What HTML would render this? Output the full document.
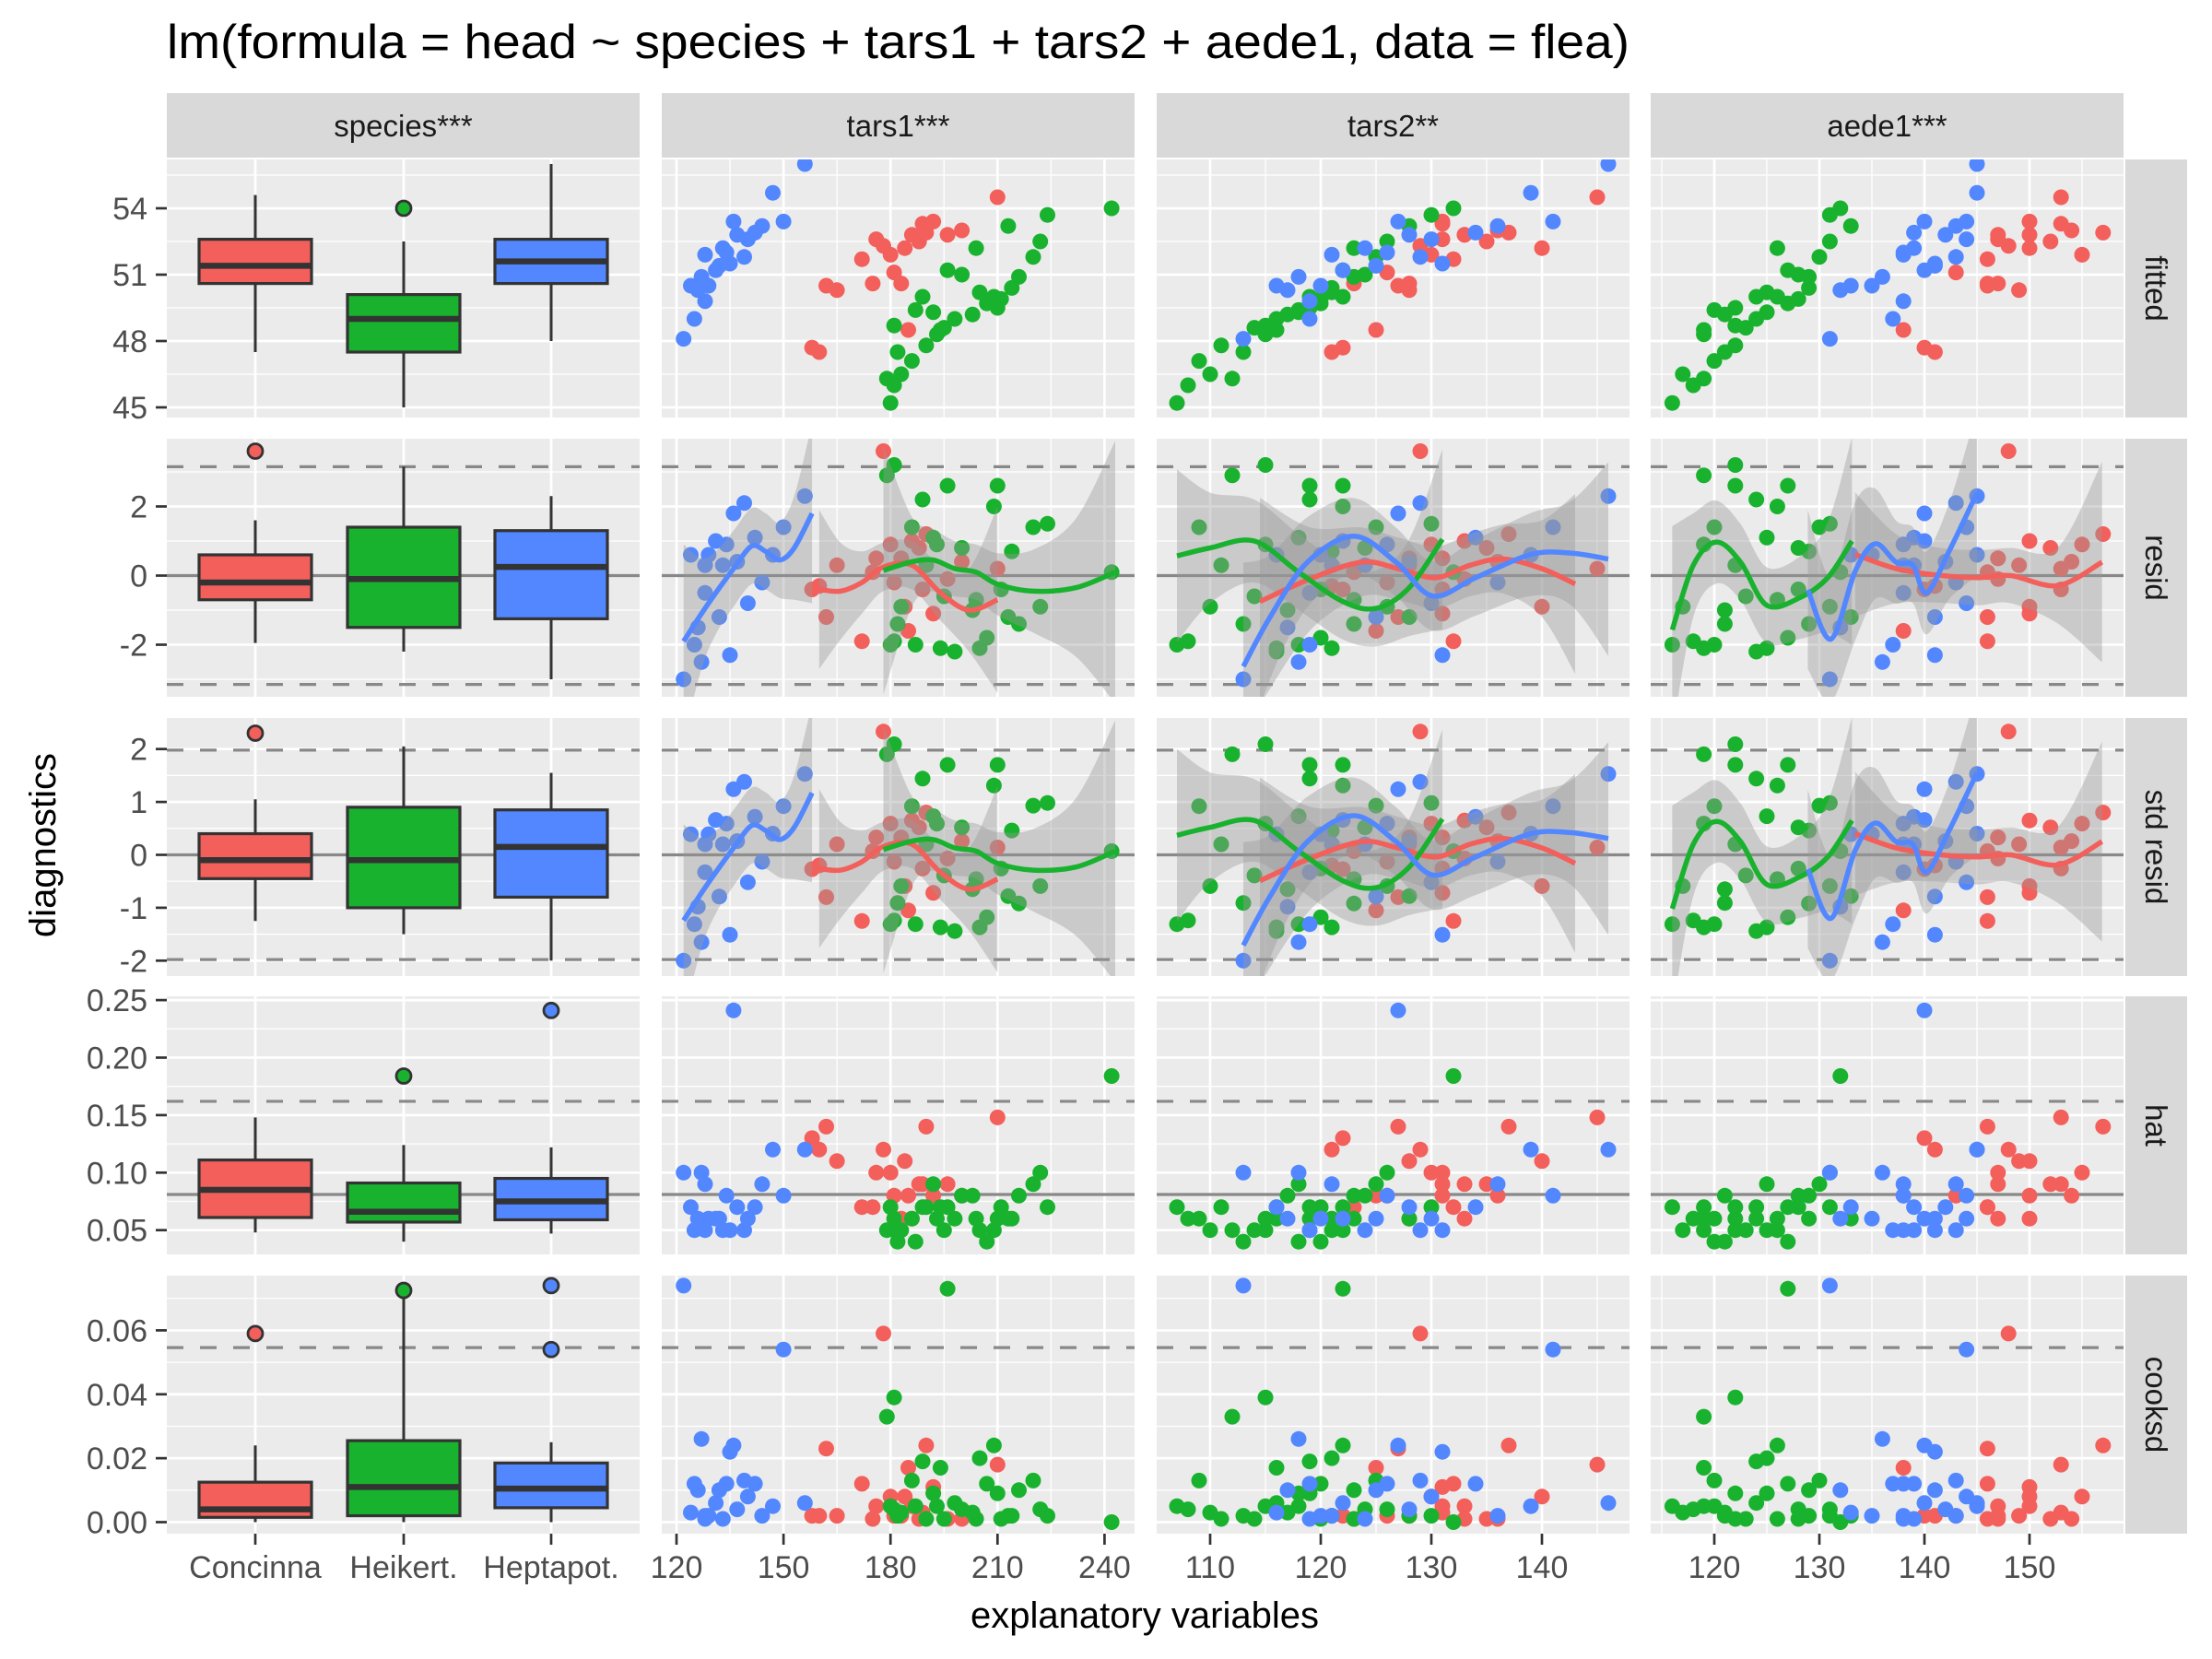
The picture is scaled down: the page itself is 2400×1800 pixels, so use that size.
<!DOCTYPE html>
<html><head><meta charset="utf-8"><title>lm diagnostics</title>
<style>html,body{margin:0;padding:0;background:#fff}svg{display:block}</style></head>
<body>
<svg id="chart" xmlns="http://www.w3.org/2000/svg" width="2400" height="1800" viewBox="0 0 2400 1800" font-family="'Liberation Sans', Arial, sans-serif">
<rect width="2400" height="1800" fill="#fff"/>
<text x="181" y="63" font-size="52" fill="#000" textLength="1587" lengthAdjust="spacingAndGlyphs">lm(formula = head ~ species + tars1 + tars2 + aede1, data = flea)</text>
<text x="1242" y="1766" font-size="40" fill="#000" text-anchor="middle">explanatory variables</text>
<text transform="translate(60,917) rotate(-90)" font-size="40" fill="#000" text-anchor="middle">diagnostics</text>
</svg>
<script>
// ---------- data ----------
const speciesNames = ["Concinna", "Heikert.", "Heptapot."];
const speciesColors = ["#F35F5B", "#19B22E", "#5287FF"];
const colVars = ["species", "tars1", "tars2", "aede1"];
const colStrips = ["species***", "tars1***", "tars2**", "aede1***"];
const rowStrips = ["fitted", "resid", "std resid", "hat", "cooksd"];

const tars1 = [
  [176,181,186,189,178,162,165,172,188,158,160,196,200,184,210,180,185,175,190,192,183],
  [180,181,183,179,186,182,190,193,195,198,192,181,203,207,209,211,214,216,220,222,242,189,205,200,187,196,213,224,194,204,210],
  [122,124,126,127,125,128,129,131,128,133,136,132,134,137,139,140,135,142,144,147,150,156]
];
const tars2 = [
  [131,126,133,131,129,127,128,132,135,122,121,133,136,140,145,130,125,123,137,131,128],
  [107,108,110,112,109,113,111,115,114,116,118,115,117,120,122,120,121,123,125,126,132,119,121,124,118,122,128,130,116,123,119],
  [113,116,117,118,119,121,120,122,119,124,127,125,126,128,129,130,131,134,136,139,141,146]
];
const aede1 = [
  [147,143,150,153,148,146,149,146,152,140,141,147,154,150,153,155,138,146,157,150,147],
  [116,118,117,119,120,121,122,119,123,124,125,122,121,127,126,128,129,129,130,131,132,124,125,128,120,127,133,131,119,126,122],
  [131,133,132,136,137,138,135,140,138,139,140,141,138,142,143,144,141,139,143,145,144,145]
];
const fitted = [
  [52.6,51.1,52.8,53.3,52.3,50.5,50.3,51.7,52.5,47.7,47.5,52.8,53.0,52.2,54.5,51.9,48.5,50.6,52.9,53.4,50.6],
  [45.2,46.0,46.5,46.3,47.1,47.5,47.8,48.3,48.6,49.0,49.3,48.7,49.2,49.7,50.0,49.9,50.4,50.9,51.8,52.5,54.0,50.0,50.2,51.0,49.4,51.2,53.2,53.7,48.5,52.2,49.5],
  [48.1,50.5,50.3,50.9,49.0,51.9,50.5,51.2,49.8,52.2,53.4,51.4,52.0,52.8,51.8,52.6,51.5,52.9,53.2,54.7,53.4,56.0]
];
const resid = [
  [0.5,-0.2,1.0,-0.4,3.6,-1.2,0.3,-1.9,0.8,-0.4,-0.3,-0.1,0.4,-0.9,0.2,0.9,-1.6,0.1,1.2,-1.1,0.5],
  [-2.0,-1.9,-0.9,2.9,1.4,-1.4,0.3,0.9,-0.6,-2.2,1.1,3.2,-1.0,-1.8,2.0,-0.4,0.7,-1.4,1.4,-0.9,0.1,2.2,-2.1,0.8,-2.0,2.6,-1.2,1.5,-2.1,-0.7,2.6],
  [-3.0,0.6,-1.5,-2.5,-2.0,0.3,0.6,1.0,-0.5,0.3,1.8,-1.2,0.9,0.4,2.1,-0.8,-2.3,1.1,-0.2,0.6,1.4,2.3]
];
const stdResid = [
  [0.33,-0.13,0.65,-0.26,2.33,-0.8,0.2,-1.25,0.52,-0.27,-0.2,-0.07,0.26,-0.59,0.14,0.59,-1.05,0.07,0.8,-0.72,0.33],
  [-1.31,-1.24,-0.59,1.9,0.92,-0.91,0.2,0.59,-0.39,-1.44,0.73,2.09,-0.65,-1.18,1.31,-0.26,0.46,-0.92,0.93,-0.59,0.07,1.44,-1.37,0.52,-1.31,1.7,-0.78,0.98,-1.37,-0.46,1.7],
  [-2.0,0.39,-0.98,-1.65,-1.31,0.2,0.39,0.66,-0.33,0.2,1.24,-0.79,0.59,0.26,1.38,-0.52,-1.51,0.72,-0.13,0.4,0.92,1.53]
];
const hat = [
  [0.10,0.08,0.06,0.09,0.12,0.14,0.11,0.07,0.09,0.13,0.12,0.09,0.08,0.11,0.148,0.10,0.08,0.07,0.14,0.08,0.06],
  [0.07,0.06,0.05,0.05,0.06,0.04,0.07,0.06,0.05,0.06,0.09,0.05,0.08,0.04,0.05,0.07,0.06,0.08,0.09,0.10,0.184,0.07,0.05,0.08,0.04,0.07,0.06,0.07,0.07,0.06,0.06],
  [0.10,0.07,0.06,0.10,0.05,0.09,0.06,0.06,0.05,0.05,0.241,0.06,0.08,0.07,0.05,0.06,0.05,0.07,0.09,0.12,0.08,0.12]
];
const cooksd = [
  [0.005,0.002,0.005,0.003,0.059,0.023,0.002,0.012,0.001,0.002,0.002,0.001,0.001,0.008,0.018,0.008,0.017,0.001,0.024,0.011,0.002],
  [0.005,0.004,0.003,0.033,0.013,0.002,0.001,0.005,0.001,0.006,0.009,0.039,0.003,0.012,0.024,0.001,0.002,0.010,0.013,0.004,0.000,0.019,0.020,0.004,0.005,0.073,0.002,0.002,0.017,0.001,0.009],
  [0.074,0.003,0.010,0.026,0.012,0.002,0.002,0.006,0.001,0.001,0.024,0.010,0.012,0.004,0.013,0.008,0.022,0.012,0.002,0.005,0.054,0.006]
];

const boxLo  = [[47.5,45.0,48.0],[-1.95,-2.2,-3.0],[-1.25,-1.5,-2.0],[0.048,0.040,0.047],[0,0,0]];
const boxQ1  = [[50.6,47.5,50.6],[-0.7,-1.5,-1.25],[-0.45,-1.0,-0.8],[0.061,0.057,0.059],[0.0015,0.002,0.0045]];
const boxMed = [[51.4,49.0,51.6],[-0.2,-0.1,0.25],[-0.1,-0.1,0.15],[0.085,0.066,0.075],[0.004,0.011,0.0105]];
const boxQ3  = [[52.6,50.1,52.6],[0.6,1.4,1.3],[0.4,0.9,0.85],[0.111,0.091,0.095],[0.0125,0.0255,0.0185]];
const boxHi  = [[54.6,52.5,56.0],[1.6,3.15,2.3],[1.05,2.05,1.55],[0.148,0.124,0.122],[0.024,0.0725,0.025]];
const boxOutliers = [
  [[],[54.0],[]],
  [[3.6],[],[]],
  [[2.3],[],[]],
  [[],[0.184],[0.241]],
  [[0.059],[0.0725],[0.054,0.074]]
];

const solidRefs  = [[], [0], [0], [0.081], []];
const dashedRefs = [[], [-3.15, 3.15], [-1.98, 1.98], [0.162], [0.0546]];

const smX = {
  tars1: [[160,166,172,178,186,194,202,210],[178,186,192,198,204,210,220,232,243],[122,127,131,136,141,145,149,153,158]],
  tars2: [[114.5,119,123.7,127,130.4,133.5,136.5,140,143],[107,110,114,118,122,125,128,131],[113,115.4,118.8,123,126.8,130.1,134,139,142.6,146]],
  aede1: [[133.4,137.3,141.1,145,148.2,152.7,156.9],[116,118,120.2,122.5,125,128.2,130.8,133.1],[128.9,131.1,133.4,135.3,137.3,138.9,140.2,142.4,145]]
};
const smResidY = {
  tars1: [[-0.4,-0.45,-0.2,0.25,0.3,-0.5,-1.0,-0.7],[0.15,0.4,0.45,0.2,0.1,-0.25,-0.45,-0.35,0.1],[-1.9,-1.1,-0.5,0.2,0.85,0.7,0.45,0.8,1.8]],
  tars2: [[-0.75,-0.1,0.39,0.2,-0.06,0.3,0.48,0.2,-0.24],[0.57,0.8,1.0,0.1,-0.75,-0.95,-0.35,1.05],[-2.63,-1.21,0.39,1.14,0.39,-0.59,-0.06,0.61,0.65,0.48]],
  aede1: [[0.61,0.2,0.02,-0.06,0.0,-0.29,0.39],[-1.57,0.3,0.97,0.39,-0.86,-0.63,-0.06,1.0],[-0.41,-1.84,0.12,0.92,0.39,0.3,-0.5,0.74,2.39]]
};
const smResidSE = {
  tars1: [[2.3,1.4,0.9,0.7,0.7,0.8,1.2,2.7],[3.6,1.3,0.9,0.8,0.8,0.9,1.2,2.0,3.8],[2.8,1.6,1.2,1.1,1.1,1.1,1.1,1.5,2.6]],
  tars2: [[3.0,1.5,1.0,0.9,0.9,0.9,1.0,1.4,2.6],[2.5,1.6,1.2,1.1,1.1,1.1,1.4,2.6],[3.0,1.8,1.3,1.1,1.0,1.0,1.1,1.2,1.5,2.8]],
  aede1: [[1.8,1.0,0.8,0.8,0.8,1.1,2.9],[3.0,1.5,1.2,1.1,1.1,1.2,1.6,3.0],[2.3,1.8,2.0,1.6,1.2,1.1,1.2,1.4,2.4]]
};
const smStdY = {
  tars1: [[-0.26,-0.29,-0.13,0.16,0.2,-0.33,-0.65,-0.46],[0.1,0.26,0.29,0.13,0.07,-0.16,-0.29,-0.23,0.07],[-1.24,-0.72,-0.33,0.13,0.55,0.46,0.29,0.52,1.17]],
  tars2: [[-0.49,-0.07,0.25,0.13,-0.04,0.2,0.31,0.13,-0.16],[0.37,0.52,0.65,0.07,-0.49,-0.62,-0.23,0.68],[-1.71,-0.79,0.25,0.74,0.25,-0.38,-0.04,0.4,0.42,0.31]],
  aede1: [[0.4,0.13,0.01,-0.04,0.0,-0.19,0.25],[-1.02,0.2,0.63,0.25,-0.56,-0.41,-0.04,0.65],[-0.27,-1.2,0.08,0.6,0.25,0.2,-0.33,0.48,1.55]]
};
const smStdSE = {
  tars1: [[1.5,0.91,0.59,0.46,0.46,0.52,0.78,1.76],[2.34,0.85,0.59,0.52,0.52,0.59,0.78,1.3,2.47],[1.82,1.04,0.78,0.72,0.72,0.72,0.72,0.98,1.69]],
  tars2: [[1.95,0.98,0.65,0.59,0.59,0.59,0.65,0.91,1.69],[1.63,1.04,0.78,0.72,0.72,0.72,0.91,1.69],[1.95,1.17,0.85,0.72,0.65,0.65,0.72,0.78,0.98,1.82]],
  aede1: [[1.17,0.65,0.52,0.52,0.52,0.72,1.89],[1.95,0.98,0.78,0.72,0.72,0.78,1.04,1.95],[1.5,1.17,1.3,1.04,0.78,0.72,0.78,0.91,1.56]]
};

const yTicks = [[45,48,51,54],[-2,0,2],[-2,-1,0,1,2],[0.05,0.10,0.15,0.20,0.25],[0,0.02,0.04,0.06]];
const yTickLabels = [["45","48","51","54"],["-2","0","2"],["-2","-1","0","1","2"],["0.05","0.10","0.15","0.20","0.25"],["0.00","0.02","0.04","0.06"]];
const yMinor = [[43.5,46.5,49.5,52.5,55.5],[-3,-1,1,3],[-1.5,-0.5,0.5,1.5],[0.075,0.125,0.175,0.225],[0.01,0.03,0.05,0.07]];
const xTicks = {tars1:[120,150,180,210,240], tars2:[110,120,130,140], aede1:[120,130,140,150]};
const xMinor = {tars1:[135,165,195,225], tars2:[115,125,135,145], aede1:[115,125,135,145,155]};

// ---------- layout / scales ----------
const NS = "http://www.w3.org/2000/svg";
const svg = document.getElementById("chart");
const colLeft = [181, 718, 1255, 1791], panelW = 513;
const rowTop = [173, 476, 779, 1081, 1384], panelH = 280;
const yAnchor = [[54,226,24.0],[0,624.5,37.5],[0,927.5,57.4],[0.05,1334.7,1248],[0,1651.5,3468]];
function yS(r, v){ const a=yAnchor[r]; return a[1] - (v - a[0]) * a[2]; }
const xAnchor = {tars1:[120,734,3.87], tars2:[110,1313,12.0], aede1:[120,1860,11.4]};
function xS(varName, v){ const a=xAnchor[varName]; return a[1] + (v - a[0]) * a[2]; }
const catX = [277, 438, 598];
const xData = {tars1: tars1, tars2: tars2, aede1: aede1};
const yData = [fitted, resid, stdResid, hat, cooksd];

function mk(tag, attrs, parent){
  const e = document.createElementNS(NS, tag);
  for (const k in attrs) e.setAttribute(k, attrs[k]);
  (parent || svg).appendChild(e);
  return e;
}
function smoothPath(pts){
  let d = "M" + pts[0][0].toFixed(1) + "," + pts[0][1].toFixed(1);
  for (let i=0;i<pts.length-1;i++){
    const p0=pts[Math.max(0,i-1)], p1=pts[i], p2=pts[i+1], p3=pts[Math.min(pts.length-1,i+2)];
    const c1=[p1[0]+(p2[0]-p0[0])/6, p1[1]+(p2[1]-p0[1])/6];
    const c2=[p2[0]-(p3[0]-p1[0])/6, p2[1]-(p3[1]-p1[1])/6];
    d += " C"+c1[0].toFixed(1)+","+c1[1].toFixed(1)+" "+c2[0].toFixed(1)+","+c2[1].toFixed(1)+" "+p2[0].toFixed(1)+","+p2[1].toFixed(1);
  }
  return d;
}

const defs = mk("defs", {});

colStrips.forEach((s, c) => {
  const g = mk("g", {});
  
  
  mk("rect", {x: colLeft[c], y: 101, width: panelW, height: 70, fill: "#D9D9D9"}, g);
  const t = mk("text", {x: colLeft[c] + panelW/2, y: 148, "font-size": 33, fill: "#1A1A1A", "text-anchor": "middle"}, g);
  t.textContent = s;
});
rowStrips.forEach((s, r) => {
  const g = mk("g", {});
  
  
  mk("rect", {x: 2306, y: rowTop[r], width: 67, height: panelH, fill: "#D9D9D9"}, g);
  const t = mk("text", {transform: "translate(2328," + (rowTop[r] + panelH/2) + ") rotate(90)", "font-size": 33, fill: "#1A1A1A", "text-anchor": "middle"}, g);
  t.textContent = s;
});

for (let r = 0; r < 5; r++) {
  for (let c = 0; c < 4; c++) {
    const L = colLeft[c], T = rowTop[r], R = L + panelW, B = T + panelH;
    const vname = colVars[c];
    const g = mk("g", {});
    
    
    const cid = "clip" + r + "_" + c;
    const cp = mk("clipPath", {id: cid}, defs);
    mk("rect", {x: L, y: T, width: panelW, height: panelH}, cp);
    mk("rect", {x: L, y: T, width: panelW, height: panelH, fill: "#EBEBEB"}, g);
    const grid = mk("g", {"clip-path": "url(#" + cid + ")"}, g);
    yMinor[r].forEach(v => { const y = yS(r, v); if (y > T && y < B) mk("line", {x1: L, x2: R, y1: y, y2: y, stroke: "#fff", "stroke-width": 1.3}, grid); });
    if (c > 0) xMinor[vname].forEach(v => { const x = xS(vname, v); mk("line", {x1: x, x2: x, y1: T, y2: B, stroke: "#fff", "stroke-width": 1.3}, grid); });
    yTicks[r].forEach(v => { const y = yS(r, v); mk("line", {x1: L, x2: R, y1: y, y2: y, stroke: "#fff", "stroke-width": 2.7}, grid); });
    if (c > 0) xTicks[vname].forEach(v => { const x = xS(vname, v); mk("line", {x1: x, x2: x, y1: T, y2: B, stroke: "#fff", "stroke-width": 2.7}, grid); });
    else catX.forEach(x => mk("line", {x1: x, x2: x, y1: T, y2: B, stroke: "#fff", "stroke-width": 2.7}, grid));
    solidRefs[r].forEach(v => { const y = yS(r, v); const l = mk("line", {x1: L, x2: R, y1: y, y2: y, stroke: "#888", "stroke-width": 3.2}, grid);
        });
    dashedRefs[r].forEach(v => { const y = yS(r, v); const l = mk("line", {x1: L, x2: R, y1: y, y2: y, stroke: "#888", "stroke-width": 3.2, "stroke-dasharray": "18,18"}, grid);
        });

    if (c === 0) {
      for (let s = 0; s < 3; s++) {
        const bx = catX[s], hw = 61;
        const bg = mk("g", {}, grid);
        
        
        mk("line", {x1: bx, x2: bx, y1: yS(r, boxHi[r][s]), y2: yS(r, boxQ3[r][s]), stroke: "#333", "stroke-width": 3}, bg);
        mk("line", {x1: bx, x2: bx, y1: yS(r, boxQ1[r][s]), y2: yS(r, boxLo[r][s]), stroke: "#333", "stroke-width": 3}, bg);
        const yq3 = yS(r, boxQ3[r][s]), yq1 = yS(r, boxQ1[r][s]);
        mk("rect", {x: bx - hw, y: yq3, width: 2*hw, height: yq1 - yq3, fill: speciesColors[s], stroke: "#333", "stroke-width": 3.2}, bg);
        const ym = yS(r, boxMed[r][s]);
        mk("line", {x1: bx - hw, x2: bx + hw, y1: ym, y2: ym, stroke: "#333", "stroke-width": 6.5}, bg);
        boxOutliers[r][s].forEach(v => {
          const o = mk("circle", {cx: bx, cy: yS(r, v), r: 8, fill: speciesColors[s], stroke: "#333", "stroke-width": 2.8}, bg);
          
          
        });
      }
    } else {
      const pg = mk("g", {}, grid);
      
      
      for (let s = 0; s < 3; s++) {
        const xs = xData[vname][s], ys = yData[r][s];
        for (let i = 0; i < xs.length; i++) {
          const p = mk("circle", {cx: xS(vname, xs[i]).toFixed(1), cy: yS(r, ys[i]).toFixed(1), r: 8.5, fill: speciesColors[s]}, pg);
          
          
        }
      }
      if (r === 1 || r === 2) {
        const YY = r === 1 ? smResidY : smStdY, SE = r === 1 ? smResidSE : smStdSE;
        for (let s = 0; s < 3; s++) {
          const X = smX[vname][s], Y = YY[vname][s], E = SE[vname][s];
          const up = X.map((x, i) => [xS(vname, x), yS(r, Y[i] + E[i])]);
          const lo = X.map((x, i) => [xS(vname, x), yS(r, Y[i] - E[i])]).reverse();
          const dUp = smoothPath(up), dLo = smoothPath(lo);
          const rib = mk("path", {d: dUp + " L" + lo[0][0].toFixed(1) + "," + lo[0][1].toFixed(1) + dLo.replace(/^M[^C]*/, "") + " Z", fill: "#999", "fill-opacity": 0.4}, grid);
          
          
        }
        for (let s = 0; s < 3; s++) {
          const X = smX[vname][s], Y = YY[vname][s];
          const pts = X.map((x, i) => [xS(vname, x), yS(r, Y[i])]);
          const ln = mk("path", {d: smoothPath(pts), fill: "none", stroke: speciesColors[s], "stroke-width": 5.5, "stroke-linecap": "butt"}, grid);
          
          
        }
      }
    }
  }
  const ag = mk("g", {});
  
  
  yTicks[r].forEach((v, i) => {
    const y = yS(r, v);
    mk("line", {x1: 169, x2: 181, y1: y, y2: y, stroke: "#333", "stroke-width": 2.7}, ag);
    const t = mk("text", {x: 160, y: y + 12, "font-size": 34, fill: "#4D4D4D", "text-anchor": "end"}, ag);
    t.textContent = yTickLabels[r][i];
  });
}
const bx0 = mk("g", {});


catX.forEach((x, i) => {
  mk("line", {x1: x, x2: x, y1: 1664, y2: 1676, stroke: "#333", "stroke-width": 2.7}, bx0);
  const t = mk("text", {x: x, y: 1712, "font-size": 34, fill: "#4D4D4D", "text-anchor": "middle"}, bx0);
  t.textContent = speciesNames[i];
});
["tars1", "tars2", "aede1"].forEach(vn => {
  const g = mk("g", {});
  
  
  xTicks[vn].forEach(v => {
    const x = xS(vn, v);
    mk("line", {x1: x, x2: x, y1: 1664, y2: 1676, stroke: "#333", "stroke-width": 2.7}, g);
    const t = mk("text", {x: x, y: 1712, "font-size": 34, fill: "#4D4D4D", "text-anchor": "middle"}, g);
    t.textContent = String(v);
  });
});
</script>
</body></html>
